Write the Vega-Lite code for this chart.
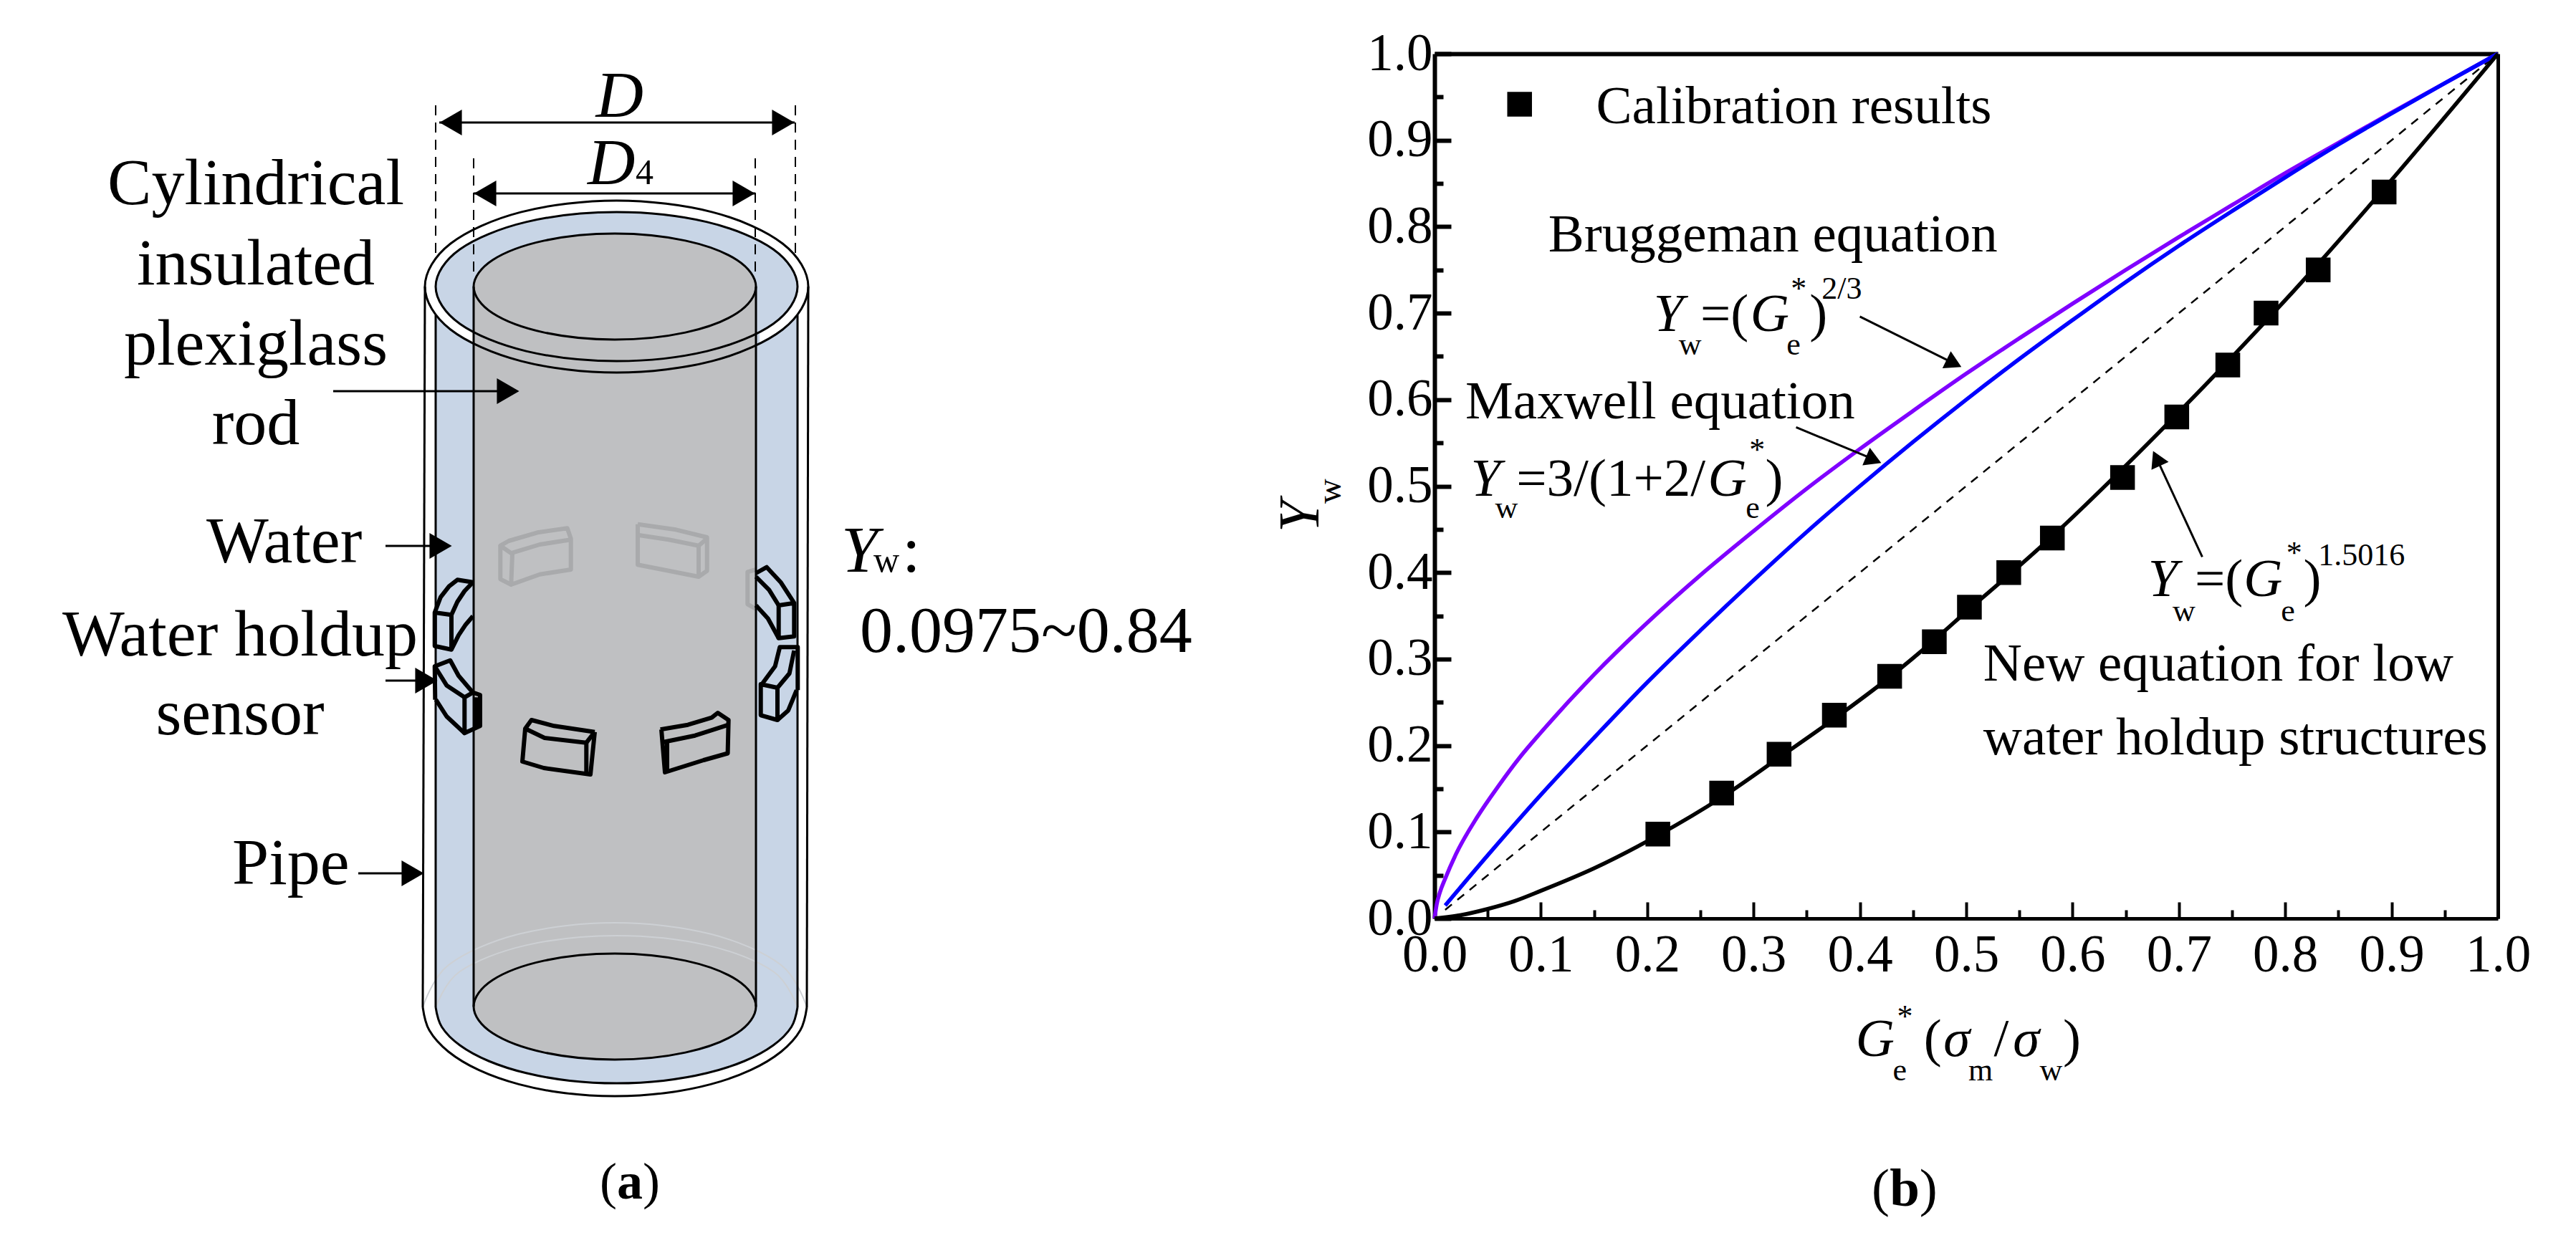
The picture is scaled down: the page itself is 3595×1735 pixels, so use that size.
{
"$schema":"https://vega.github.io/schema/vega-lite/v6.json",
"padding":0,
"background":"white",
"spacing":0,
"config":{"view":{"stroke":null},"text":{"font":"Liberation Serif","color":"black"},"axis":{"labelFont":"Liberation Serif","grid":false,"title":null}},
"datasets":{
"curves":[
{"series":"dash","g":0.01,"y":0.01},{"series":"dash","g":1,"y":1},
{"series":"purple","g":0,"y":0},{"series":"purple","g":0.002,"y":0.016},{"series":"purple","g":0.005,"y":0.03},{"series":"purple","g":0.01,"y":0.046},{"series":"purple","g":0.02,"y":0.074},{"series":"purple","g":0.04,"y":0.117},{"series":"purple","g":0.06,"y":0.153},{"series":"purple","g":0.08,"y":0.186},{"series":"purple","g":0.1,"y":0.215},{"series":"purple","g":0.15,"y":0.282},{"series":"purple","g":0.2,"y":0.342},{"series":"purple","g":0.25,"y":0.397},{"series":"purple","g":0.3,"y":0.448},{"series":"purple","g":0.35,"y":0.497},{"series":"purple","g":0.4,"y":0.543},{"series":"purple","g":0.45,"y":0.587},{"series":"purple","g":0.5,"y":0.63},{"series":"purple","g":0.55,"y":0.671},{"series":"purple","g":0.6,"y":0.711},{"series":"purple","g":0.65,"y":0.75},{"series":"purple","g":0.7,"y":0.788},{"series":"purple","g":0.75,"y":0.825},{"series":"purple","g":0.8,"y":0.862},{"series":"purple","g":0.85,"y":0.897},{"series":"purple","g":0.9,"y":0.932},{"series":"purple","g":0.95,"y":0.966},{"series":"purple","g":1,"y":1},
{"series":"blue","g":0.01,"y":0.015},{"series":"blue","g":0.05,"y":0.073},{"series":"blue","g":0.1,"y":0.143},{"series":"blue","g":0.15,"y":0.209},{"series":"blue","g":0.2,"y":0.273},{"series":"blue","g":0.25,"y":0.333},{"series":"blue","g":0.3,"y":0.391},{"series":"blue","g":0.35,"y":0.447},{"series":"blue","g":0.4,"y":0.5},{"series":"blue","g":0.45,"y":0.551},{"series":"blue","g":0.5,"y":0.6},{"series":"blue","g":0.55,"y":0.647},{"series":"blue","g":0.6,"y":0.692},{"series":"blue","g":0.65,"y":0.736},{"series":"blue","g":0.7,"y":0.778},{"series":"blue","g":0.75,"y":0.818},{"series":"blue","g":0.8,"y":0.857},{"series":"blue","g":0.85,"y":0.895},{"series":"blue","g":0.9,"y":0.931},{"series":"blue","g":0.95,"y":0.966},{"series":"blue","g":1,"y":1},
{"series":"black","g":0,"y":0},{"series":"black","g":0.025,"y":0.004},{"series":"black","g":0.05,"y":0.011},{"series":"black","g":0.075,"y":0.02},{"series":"black","g":0.1,"y":0.032},{"series":"black","g":0.15,"y":0.058},{"series":"black","g":0.21,"y":0.096},{"series":"black","g":0.27,"y":0.14},{"series":"black","g":0.324,"y":0.186},{"series":"black","g":0.376,"y":0.231},{"series":"black","g":0.428,"y":0.279},{"series":"black","g":0.47,"y":0.322},{"series":"black","g":0.503,"y":0.358},{"series":"black","g":0.54,"y":0.397},{"series":"black","g":0.581,"y":0.442},{"series":"black","g":0.647,"y":0.52},{"series":"black","g":0.698,"y":0.583},{"series":"black","g":0.746,"y":0.644},{"series":"black","g":0.782,"y":0.691},{"series":"black","g":0.831,"y":0.757},{"series":"black","g":0.893,"y":0.844},{"series":"black","g":1,"y":1}
],
"calib":[{"g":0.21,"y":0.0975},{"g":0.27,"y":0.145},{"g":0.324,"y":0.19},{"g":0.376,"y":0.235},{"g":0.428,"y":0.28},{"g":0.47,"y":0.32},{"g":0.503,"y":0.36},{"g":0.54,"y":0.4},{"g":0.581,"y":0.44},{"g":0.647,"y":0.51},{"g":0.698,"y":0.58},{"g":0.746,"y":0.64},{"g":0.782,"y":0.7},{"g":0.831,"y":0.75},{"g":0.893,"y":0.84},{"g":0.08,"y":0.9416}],
"notes":[
{"k":"reg","g":0.152,"y":0.92,"t":"Calibration results"},
{"k":"reg","g":0.107,"y":0.771,"t":"Bruggeman equation"},
{"k":"reg","g":0.029,"y":0.5786,"t":"Maxwell equation"},
{"k":"reg","g":0.516,"y":0.275,"t":"New equation for low"},
{"k":"reg","g":0.516,"y":0.19,"t":"water holdup structures"},
{"k":"reg","g":0.25,"y":0.679,"t":"=("},{"k":"reg","g":0.3526,"y":0.679,"t":")"},
{"k":"reg","g":0.077,"y":0.489,"t":"=3/(1+2/"},{"k":"reg","g":0.311,"y":0.489,"t":")"},
{"k":"reg","g":0.715,"y":0.373,"t":"=("},{"k":"reg","g":0.817,"y":0.373,"t":")"},
{"k":"reg","g":0.46,"y":-0.159,"t":"("},{"k":"reg","g":0.526,"y":-0.159,"t":"/"},{"k":"reg","g":0.591,"y":-0.159,"t":")"},
{"k":"reg","g":0.411,"y":-0.332,"t":"("},{"k":"reg","g":0.456,"y":-0.332,"t":")"},
{"k":"bold","g":0.428,"y":-0.332,"t":"b"},
{"k":"ital","g":0.206,"y":0.679,"t":"Y"},{"k":"ital","g":0.297,"y":0.679,"t":"G"},
{"k":"ital","g":0.034,"y":0.489,"t":"Y"},{"k":"ital","g":0.257,"y":0.489,"t":"G"},
{"k":"ital","g":0.671,"y":0.373,"t":"Y"},{"k":"ital","g":0.761,"y":0.373,"t":"G"},
{"k":"ital","g":0.396,"y":-0.159,"t":"G"},{"k":"ital","g":0.4786,"y":-0.159,"t":"σ"},{"k":"ital","g":0.544,"y":-0.159,"t":"σ"},
{"k":"small","g":0.2296,"y":0.652,"t":"w"},{"k":"small","g":0.331,"y":0.652,"t":"e"},{"k":"small","g":0.335,"y":0.717,"t":"*"},{"k":"small","g":0.364,"y":0.717,"t":"2/3"},
{"k":"small","g":0.057,"y":0.463,"t":"w"},{"k":"small","g":0.2926,"y":0.463,"t":"e"},{"k":"small","g":0.296,"y":0.53,"t":"*"},
{"k":"small","g":0.694,"y":0.344,"t":"w"},{"k":"small","g":0.796,"y":0.344,"t":"e"},{"k":"small","g":0.801,"y":0.411,"t":"*"},{"k":"small","g":0.831,"y":0.4086,"t":"1.5016"},
{"k":"small","g":0.431,"y":-0.187,"t":"e"},{"k":"small","g":0.435,"y":-0.125,"t":"*"},{"k":"small","g":0.502,"y":-0.187,"t":"m"},{"k":"small","g":0.569,"y":-0.187,"t":"w"},
{"k":"roty","g":-0.1092,"y":0.4466,"t":"Y"},
{"k":"rotw","g":-0.0885,"y":0.4797,"t":"w"}
],
"pointers":[
{"id":"a","n":0,"g":0.4,"y":0.696},{"id":"a","n":1,"g":0.49,"y":0.641},
{"id":"b","n":0,"g":0.34,"y":0.568},{"id":"b","n":1,"g":0.415,"y":0.53},
{"id":"c","n":0,"g":0.722,"y":0.418},{"id":"c","n":1,"g":0.678,"y":0.535}
],
"heads":[
{"id":"a","g":0.4885,"y":0.642,"ang":116},
{"id":"b","g":0.413,"y":0.5305,"ang":113},
{"id":"c","g":0.679,"y":0.532,"ang":-25}
],
"ell":[
{"id":"o","i":0,"u":1128,"v":400},{"id":"o","i":1,"u":1092.2,"v":340},{"id":"o","i":2,"u":994.3,"v":296.1},{"id":"o","i":3,"u":860.5,"v":280},{"id":"o","i":4,"u":726.7,"v":296.1},{"id":"o","i":5,"u":628.8,"v":340},{"id":"o","i":6,"u":593,"v":400},{"id":"o","i":7,"u":628.8,"v":460},{"id":"o","i":8,"u":726.7,"v":503.9},{"id":"o","i":9,"u":860.5,"v":520},{"id":"o","i":10,"u":994.3,"v":503.9},{"id":"o","i":11,"u":1092.2,"v":460},
{"id":"n","i":0,"u":1113,"v":400},{"id":"n","i":1,"u":1079.2,"v":348},{"id":"n","i":2,"u":986.8,"v":309.9},{"id":"n","i":3,"u":860.5,"v":296},{"id":"n","i":4,"u":734.2,"v":309.9},{"id":"n","i":5,"u":641.8,"v":348},{"id":"n","i":6,"u":608,"v":400},{"id":"n","i":7,"u":641.8,"v":452},{"id":"n","i":8,"u":734.2,"v":490.1},{"id":"n","i":9,"u":860.5,"v":504},{"id":"n","i":10,"u":986.8,"v":490.1},{"id":"n","i":11,"u":1079.2,"v":452},
{"id":"r","i":0,"u":1055,"v":400},{"id":"r","i":1,"u":1028.6,"v":363},{"id":"r","i":2,"u":956.5,"v":335.9},{"id":"r","i":3,"u":858,"v":326},{"id":"r","i":4,"u":759.5,"v":335.9},{"id":"r","i":5,"u":687.4,"v":363},{"id":"r","i":6,"u":661,"v":400},{"id":"r","i":7,"u":687.4,"v":437},{"id":"r","i":8,"u":759.5,"v":464.1},{"id":"r","i":9,"u":858,"v":474},{"id":"r","i":10,"u":956.5,"v":464.1},{"id":"r","i":11,"u":1028.6,"v":437},
{"id":"b","i":0,"u":1055,"v":1405},{"id":"b","i":1,"u":1028.6,"v":1368},{"id":"b","i":2,"u":956.5,"v":1340.9},{"id":"b","i":3,"u":858,"v":1331},{"id":"b","i":4,"u":759.5,"v":1340.9},{"id":"b","i":5,"u":687.4,"v":1368},{"id":"b","i":6,"u":661,"v":1405},{"id":"b","i":7,"u":687.4,"v":1442},{"id":"b","i":8,"u":759.5,"v":1469.1},{"id":"b","i":9,"u":858,"v":1479},{"id":"b","i":10,"u":956.5,"v":1469.1},{"id":"b","i":11,"u":1028.6,"v":1442}
],
"arcs":[
{"id":"ob","i":0,"u":590,"v":1406},{"id":"ob","i":1,"u":599.1,"v":1438.1},{"id":"ob","i":2,"u":625.9,"v":1468},{"id":"ob","i":3,"u":668.5,"v":1493.7},{"id":"ob","i":4,"u":724,"v":1513.4},{"id":"ob","i":5,"u":788.6,"v":1525.8},{"id":"ob","i":6,"u":858,"v":1530},{"id":"ob","i":7,"u":927.4,"v":1525.8},{"id":"ob","i":8,"u":992,"v":1513.4},{"id":"ob","i":9,"u":1047.5,"v":1493.7},{"id":"ob","i":10,"u":1090.1,"v":1468},{"id":"ob","i":11,"u":1116.9,"v":1438.1},{"id":"ob","i":12,"u":1126,"v":1406},
{"id":"ib","i":0,"u":608,"v":1406},{"id":"ib","i":1,"u":616.6,"v":1433.5},{"id":"ib","i":2,"u":641.8,"v":1459},{"id":"ib","i":3,"u":682,"v":1481},{"id":"ib","i":4,"u":734.2,"v":1497.8},{"id":"ib","i":5,"u":795.1,"v":1508.4},{"id":"ib","i":6,"u":860.5,"v":1512},{"id":"ib","i":7,"u":925.9,"v":1508.4},{"id":"ib","i":8,"u":986.8,"v":1497.8},{"id":"ib","i":9,"u":1039,"v":1481},{"id":"ib","i":10,"u":1079.2,"v":1459},{"id":"ib","i":11,"u":1104.4,"v":1433.5},{"id":"ib","i":12,"u":1113,"v":1406}
],
"faint":[
{"id":"of","i":0,"u":590,"v":1406},{"id":"of","i":1,"u":625.9,"v":1347},{"id":"of","i":2,"u":724,"v":1303.8},{"id":"of","i":3,"u":858,"v":1288},{"id":"of","i":4,"u":992,"v":1303.8},{"id":"of","i":5,"u":1090.1,"v":1347},{"id":"of","i":6,"u":1126,"v":1406},
{"id":"if","i":0,"u":608,"v":1406},{"id":"if","i":1,"u":641.8,"v":1356},{"id":"if","i":2,"u":734.2,"v":1319.4},{"id":"if","i":3,"u":860.5,"v":1306},{"id":"if","i":4,"u":986.8,"v":1319.4},{"id":"if","i":5,"u":1079.2,"v":1356},{"id":"if","i":6,"u":1113,"v":1406}
],
"blueArea":[{"u":608,"v":400,"v2":1406},{"u":616.5,"v":373,"v2":1433.5},{"u":641.5,"v":348,"v2":1459},{"u":682,"v":326.5,"v2":1481},{"u":734.5,"v":310,"v2":1498},{"u":795.5,"v":299.5,"v2":1508.5},{"u":860.5,"v":296,"v2":1512},{"u":925.5,"v":299.5,"v2":1508.5},{"u":986.5,"v":310,"v2":1498},{"u":1039,"v":326.5,"v2":1481},{"u":1079.5,"v":348,"v2":1459},{"u":1104.5,"v":373,"v2":1433.5},{"u":1113,"v":400,"v2":1406}],
"band":[
{"s":"l","u":593,"v":400,"v2":400},{"s":"l","u":597,"v":400,"v2":420.7},{"s":"l","u":608,"v":400,"v2":439.6},{"s":"l","u":610,"v":413,"v2":441},{"s":"l","u":620,"v":431.7,"v2":452.6},{"s":"l","u":640,"v":450.7,"v2":468},{"s":"l","u":661,"v":463.8,"v2":480},
{"s":"r","u":1060,"v":463.8,"v2":480},{"s":"r","u":1081,"v":450.7,"v2":468},{"s":"r","u":1101,"v":431.7,"v2":452.6},{"s":"r","u":1111,"v":413,"v2":441},{"s":"r","u":1113,"v":400,"v2":439.6},{"s":"r","u":1124,"v":400,"v2":420.7},{"s":"r","u":1128,"v":400,"v2":400}
],
"rodArea":[{"u":661,"v":400,"v2":1405},{"u":667.7,"v":381,"v2":1424},{"u":687.4,"v":363,"v2":1442},{"u":718.7,"v":347.7,"v2":1457.3},{"u":759.5,"v":336,"v2":1469},{"u":807,"v":328.5,"v2":1476.5},{"u":858,"v":326,"v2":1479},{"u":909,"v":328.5,"v2":1476.5},{"u":956.5,"v":336,"v2":1469},{"u":997.3,"v":347.7,"v2":1457.3},{"u":1028.6,"v":363,"v2":1442},{"u":1048.3,"v":381,"v2":1424},{"u":1055,"v":400,"v2":1405}],
"thin":[
{"id":"w1","i":0,"u":593,"v":400},{"id":"w1","i":1,"u":590,"v":1406},
{"id":"w2","i":0,"u":608,"v":440},{"id":"w2","i":1,"u":608,"v":1406},
{"id":"w3","i":0,"u":661,"v":400},{"id":"w3","i":1,"u":661,"v":1405},
{"id":"w4","i":0,"u":1055,"v":400},{"id":"w4","i":1,"u":1055,"v":1405},
{"id":"w5","i":0,"u":1113,"v":440},{"id":"w5","i":1,"u":1113,"v":1406},
{"id":"w6","i":0,"u":1128,"v":400},{"id":"w6","i":1,"u":1126,"v":1406},
{"id":"a1","i":0,"u":613,"v":171},{"id":"a1","i":1,"u":1109,"v":171},
{"id":"a2","i":0,"u":661,"v":270},{"id":"a2","i":1,"u":1054,"v":270},
{"id":"a3","i":0,"u":465,"v":546},{"id":"a3","i":1,"u":700,"v":546},
{"id":"a4","i":0,"u":538,"v":762},{"id":"a4","i":1,"u":605,"v":762},
{"id":"a5","i":0,"u":538,"v":950},{"id":"a5","i":1,"u":585,"v":950},
{"id":"a6","i":0,"u":500,"v":1219},{"id":"a6","i":1,"u":565,"v":1219}
],
"dashes":[
{"id":"d1","i":0,"u":608,"v":147},{"id":"d1","i":1,"u":608,"v":355},
{"id":"d2","i":0,"u":1110,"v":147},{"id":"d2","i":1,"u":1110,"v":355},
{"id":"d3","i":0,"u":661,"v":221},{"id":"d3","i":1,"u":661,"v":387},
{"id":"d4","i":0,"u":1054,"v":221},{"id":"d4","i":1,"u":1054,"v":387}
],
"heads2":[
{"shape":"triangle-left","u":629,"v":171},{"shape":"triangle-right","u":1093,"v":171},
{"shape":"triangle-left","u":677,"v":270},{"shape":"triangle-right","u":1038,"v":270},
{"shape":"triangle-right","u":709,"v":546},{"shape":"triangle-right","u":615,"v":762},
{"shape":"triangle-right","u":595,"v":950},{"shape":"triangle-right","u":576,"v":1219}
],
"sensors":[
{"id":"A1","i":0,"u":606.7,"v":855},{"id":"A1","i":1,"u":606.7,"v":901.7},{"id":"A1","i":2,"u":630,"v":906.7},{"id":"A1","i":3,"u":630,"v":858.3},{"id":"A1","i":4,"u":606.7,"v":855},{"id":"A1","i":5,"u":615,"v":833.3},{"id":"A1","i":6,"u":626.7,"v":818.3},{"id":"A1","i":7,"u":638.3,"v":809.3},{"id":"A1","i":8,"u":660,"v":812.7},
{"id":"A2","i":0,"u":630,"v":858.3},{"id":"A2","i":1,"u":638.3,"v":840},{"id":"A2","i":2,"u":648.3,"v":825},{"id":"A2","i":3,"u":660,"v":812.7},
{"id":"A3","i":0,"u":630,"v":906.7},{"id":"A3","i":1,"u":640,"v":886.7},{"id":"A3","i":2,"u":650,"v":871.7},{"id":"A3","i":3,"u":660,"v":860},
{"id":"B1","i":0,"u":607.3,"v":976.7},{"id":"B1","i":1,"u":606.7,"v":930},{"id":"B1","i":2,"u":628.3,"v":921.7},{"id":"B1","i":3,"u":640,"v":943.3},{"id":"B1","i":4,"u":660,"v":966.7},{"id":"B1","i":5,"u":670,"v":970},{"id":"B1","i":6,"u":670,"v":1013.3},{"id":"B1","i":7,"u":648.3,"v":1023.3},{"id":"B1","i":8,"u":648.3,"v":973.3},{"id":"B1","i":9,"u":660,"v":966.7},
{"id":"B2","i":0,"u":606.7,"v":930},{"id":"B2","i":1,"u":623.3,"v":956.7},{"id":"B2","i":2,"u":648.3,"v":973.3},
{"id":"B3","i":0,"u":608.3,"v":976.7},{"id":"B3","i":1,"u":623.3,"v":1000},{"id":"B3","i":2,"u":648.3,"v":1023.3},
{"id":"B4","i":0,"u":665,"v":973.3},{"id":"B4","i":1,"u":665,"v":1016.7},
{"id":"C1","i":0,"u":1055,"v":800},{"id":"C1","i":1,"u":1070,"v":791.7},{"id":"C1","i":2,"u":1090,"v":813.3},{"id":"C1","i":3,"u":1108.3,"v":841.7},{"id":"C1","i":4,"u":1108.3,"v":888.3},{"id":"C1","i":5,"u":1086.7,"v":890.7},{"id":"C1","i":6,"u":1086.7,"v":845},{"id":"C1","i":7,"u":1108.3,"v":841.7},
{"id":"C2","i":0,"u":1055,"v":805},{"id":"C2","i":1,"u":1073.3,"v":823.3},{"id":"C2","i":2,"u":1086.7,"v":845},
{"id":"C3","i":0,"u":1055,"v":845},{"id":"C3","i":1,"u":1071.7,"v":863.3},{"id":"C3","i":2,"u":1086.7,"v":890.7},
{"id":"D1","i":0,"u":1061.7,"v":955},{"id":"D1","i":1,"u":1085,"v":960},{"id":"D1","i":2,"u":1085,"v":1005},{"id":"D1","i":3,"u":1061.7,"v":998.3},{"id":"D1","i":4,"u":1061.7,"v":955},{"id":"D1","i":5,"u":1063.3,"v":955},{"id":"D1","i":6,"u":1081.7,"v":930},{"id":"D1","i":7,"u":1088.3,"v":903.3},{"id":"D1","i":8,"u":1113.3,"v":903.3},{"id":"D1","i":9,"u":1113.3,"v":963.3},
{"id":"D2","i":0,"u":1108.3,"v":908},{"id":"D2","i":1,"u":1101.7,"v":940},{"id":"D2","i":2,"u":1085,"v":960},
{"id":"D3","i":0,"u":1085,"v":1005},{"id":"D3","i":1,"u":1100,"v":991.7},{"id":"D3","i":2,"u":1111.7,"v":963.3},
{"id":"E1","i":0,"u":830,"v":1021.7},{"id":"E1","i":1,"u":773.3,"v":1013.3},{"id":"E1","i":2,"u":741.7,"v":1005},{"id":"E1","i":3,"u":733,"v":1017},{"id":"E1","i":4,"u":729,"v":1063},{"id":"E1","i":5,"u":759,"v":1072},{"id":"E1","i":6,"u":824,"v":1081},{"id":"E1","i":7,"u":830,"v":1021.7},
{"id":"E2","i":0,"u":733,"v":1017},{"id":"E2","i":1,"u":760,"v":1030},{"id":"E2","i":2,"u":818.3,"v":1036.7},{"id":"E2","i":3,"u":818.3,"v":1079},
{"id":"E3","i":0,"u":818.3,"v":1036.7},{"id":"E3","i":1,"u":830,"v":1021.7},
{"id":"F1","i":0,"u":921.7,"v":1018.3},{"id":"F1","i":1,"u":960,"v":1011.7},{"id":"F1","i":2,"u":993.3,"v":1001.7},{"id":"F1","i":3,"u":1001.7,"v":995},{"id":"F1","i":4,"u":1016.7,"v":1005},{"id":"F1","i":5,"u":1015.6,"v":1051.5},{"id":"F1","i":6,"u":982,"v":1061},{"id":"F1","i":7,"u":928,"v":1078},{"id":"F1","i":8,"u":923,"v":1018.3},
{"id":"F2","i":0,"u":925,"v":1036},{"id":"F2","i":1,"u":970,"v":1026.7},{"id":"F2","i":2,"u":1016.7,"v":1011.7},
{"id":"F3","i":0,"u":931,"v":1036},{"id":"F3","i":1,"u":931,"v":1076}
],
"backs":[
{"id":"G1","i":0,"u":698.3,"v":761.7},{"id":"G1","i":1,"u":698.3,"v":808.3},{"id":"G1","i":2,"u":713.3,"v":816},{"id":"G1","i":3,"u":715,"v":773.3},{"id":"G1","i":4,"u":698.3,"v":761.7},{"id":"G1","i":5,"u":710,"v":755},{"id":"G1","i":6,"u":750,"v":743.3},{"id":"G1","i":7,"u":791.7,"v":737.3},{"id":"G1","i":8,"u":796.7,"v":751.7},{"id":"G1","i":9,"u":796.7,"v":795},{"id":"G1","i":10,"u":753.3,"v":801.7},{"id":"G1","i":11,"u":713.3,"v":816},
{"id":"G2","i":0,"u":715,"v":771.7},{"id":"G2","i":1,"u":753.3,"v":760},{"id":"G2","i":2,"u":796.7,"v":753.3},
{"id":"H1","i":0,"u":890,"v":731.7},{"id":"H1","i":1,"u":890,"v":788.3},{"id":"H1","i":2,"u":933.3,"v":796.7},{"id":"H1","i":3,"u":975,"v":805},{"id":"H1","i":4,"u":986.7,"v":796.7},{"id":"H1","i":5,"u":986.7,"v":750},{"id":"H1","i":6,"u":943.3,"v":739.3},{"id":"H1","i":7,"u":890,"v":731.7},
{"id":"H2","i":0,"u":890,"v":746.7},{"id":"H2","i":1,"u":933.3,"v":753.3},{"id":"H2","i":2,"u":975,"v":761.7},{"id":"H2","i":3,"u":986.7,"v":751.7},
{"id":"H3","i":0,"u":975,"v":761.7},{"id":"H3","i":1,"u":975,"v":805},
{"id":"I1","i":0,"u":1055,"v":795},{"id":"I1","i":1,"u":1043.3,"v":798.3},{"id":"I1","i":2,"u":1043.3,"v":843.3},{"id":"I1","i":3,"u":1055,"v":850}
],
"leftText":[
{"k":"c","u":357,"v":285,"t":"Cylindrical"},{"k":"c","u":357,"v":397,"t":"insulated"},{"k":"c","u":357,"v":509,"t":"plexiglass"},{"k":"c","u":357,"v":620,"t":"rod"},{"k":"c","u":335,"v":1024.5,"t":"sensor"},
{"k":"l","u":288,"v":785,"t":"Water"},{"k":"l","u":87,"v":915,"t":"Water holdup"},{"k":"l","u":324,"v":1234,"t":"Pipe"},{"k":"l","u":1259,"v":797.5,"t":":"},{"k":"l","u":1200,"v":910,"t":"0.0975~0.84"},
{"k":"i","u":831.5,"v":163,"t":"D"},{"k":"i","u":820,"v":257,"t":"D"},{"k":"i","u":1174,"v":797.5,"t":"Y"},
{"k":"s","u":887,"v":257,"t":"4"},{"k":"s","u":1219,"v":797.5,"t":"w"},
{"k":"p","u":837,"v":1673,"t":"("},{"k":"p","u":897,"v":1673,"t":")"},
{"k":"b","u":861,"v":1673,"t":"a"}
]
},
"hconcat":[
{
"width":1700,"height":1735,
"encoding":{
"x":{"field":"u","type":"quantitative","scale":{"domain":[0,1700]},"axis":null},
"y":{"field":"v","type":"quantitative","scale":{"domain":[0,1735],"reverse":true},"axis":null}
},
"layer":[
{"data":{"name":"blueArea"},"mark":{"type":"area","color":"#c8d5e6","interpolate":"cardinal"},"encoding":{"y2":{"field":"v2"}}},
{"data":{"name":"band"},"mark":{"type":"area","color":"white"},"encoding":{"y2":{"field":"v2"},"detail":{"field":"s"}}},
{"data":{"name":"rodArea"},"mark":{"type":"area","color":"#bfc0c2","interpolate":"cardinal"},"encoding":{"y2":{"field":"v2"}}},
{"data":{"name":"faint"},"mark":{"type":"line","color":"#cdd0d4","strokeWidth":2,"interpolate":"cardinal"},"encoding":{"detail":{"field":"id"},"order":{"field":"i"}}},
{"data":{"name":"backs"},"mark":{"type":"line","color":"#a9aaac","strokeWidth":6,"strokeJoin":"round"},"encoding":{"detail":{"field":"id"},"order":{"field":"i"}}},
{"data":{"name":"thin"},"mark":{"type":"line","color":"black","strokeWidth":3},"encoding":{"detail":{"field":"id"},"order":{"field":"i"}}},
{"data":{"name":"dashes"},"mark":{"type":"line","color":"black","strokeWidth":2,"strokeDash":[14,10]},"encoding":{"detail":{"field":"id"},"order":{"field":"i"}}},
{"data":{"name":"ell"},"mark":{"type":"line","color":"black","strokeWidth":3,"interpolate":"cardinal-closed"},"encoding":{"detail":{"field":"id"},"order":{"field":"i"}}},
{"data":{"name":"arcs"},"mark":{"type":"line","color":"black","strokeWidth":3,"interpolate":"cardinal"},"encoding":{"detail":{"field":"id"},"order":{"field":"i"}}},
{"data":{"name":"sensors"},"mark":{"type":"line","color":"black","strokeWidth":6,"strokeJoin":"round"},"encoding":{"detail":{"field":"id"},"order":{"field":"i"}}},
{"data":{"name":"heads2"},"mark":{"type":"point","filled":true,"color":"black","opacity":1,"size":1296},"encoding":{"shape":{"field":"shape","type":"nominal","scale":null}}},
{"data":{"name":"leftText"},"transform":[{"filter":"datum.k==='c'"}],"mark":{"type":"text","fontSize":92,"align":"center","baseline":"alphabetic"},"encoding":{"text":{"field":"t"}}},
{"data":{"name":"leftText"},"transform":[{"filter":"datum.k==='l'"}],"mark":{"type":"text","fontSize":92,"align":"left","baseline":"alphabetic"},"encoding":{"text":{"field":"t"}}},
{"data":{"name":"leftText"},"transform":[{"filter":"datum.k==='i'"}],"mark":{"type":"text","fontSize":92,"fontStyle":"italic","align":"left","baseline":"alphabetic"},"encoding":{"text":{"field":"t"}}},
{"data":{"name":"leftText"},"transform":[{"filter":"datum.k==='s'"}],"mark":{"type":"text","fontSize":50,"align":"left","baseline":"alphabetic"},"encoding":{"text":{"field":"t"}}},
{"data":{"name":"leftText"},"transform":[{"filter":"datum.k==='p'"}],"mark":{"type":"text","fontSize":72,"align":"left","baseline":"alphabetic"},"encoding":{"text":{"field":"t"}}},
{"data":{"name":"leftText"},"transform":[{"filter":"datum.k==='b'"}],"mark":{"type":"text","fontSize":72,"fontWeight":"bold","align":"left","baseline":"alphabetic"},"encoding":{"text":{"field":"t"}}}
]
},
{
"width":1895,"height":1735,
"resolve":{"axis":{"x":"independent","y":"independent"}},
"encoding":{
"x":{"field":"g","type":"quantitative","scale":{"domain":[0,1],"range":[302,1786]},"axis":null},
"y":{"field":"y","type":"quantitative","scale":{"domain":[0,1],"range":[1282,75]},"axis":null}
},
"layer":[
{"data":{"name":"curves"},"transform":[{"filter":"datum.series==='dash'"}],"mark":{"type":"line","color":"black","strokeWidth":2.5,"strokeDash":[12,10]},
"encoding":{
"x":{"field":"g","type":"quantitative","axis":{"orient":"bottom","offset":-453,"values":[0,0.1,0.2,0.3,0.4,0.5,0.6,0.7,0.8,0.9,1],"format":".1f","domainColor":"black","domainWidth":5,"tickColor":"black","tickWidth":4,"tickSize":-23,"labelColor":"black","labelFontSize":73,"labelPadding":38,"labelOverlap":false,"labelFlush":false,"labelBound":false}},
"y":{"field":"y","type":"quantitative","axis":{"orient":"left","offset":-302,"values":[0,0.1,0.2,0.3,0.4,0.5,0.6,0.7,0.8,0.9,1],"format":".1f","domainColor":"black","domainWidth":6,"tickColor":"black","tickWidth":6,"tickSize":-23,"labelColor":"black","labelFontSize":73,"labelPadding":26,"labelOverlap":false,"labelFlush":false,"labelBound":false}}
}},
{"data":{"name":"curves"},"transform":[{"filter":"datum.series==='purple'"}],"mark":{"type":"line","color":"#7f00ff","strokeWidth":5.5,"interpolate":"monotone"},
"encoding":{
"x":{"field":"g","type":"quantitative","axis":{"orient":"bottom","offset":-453,"values":[0.05,0.15,0.25,0.35,0.45,0.55,0.65,0.75,0.85,0.95],"domain":false,"labels":false,"tickColor":"black","tickWidth":4,"tickSize":-12}},
"y":{"field":"y","type":"quantitative","axis":{"orient":"left","offset":-302,"values":[0.05,0.15,0.25,0.35,0.45,0.55,0.65,0.75,0.85,0.95],"domain":false,"labels":false,"tickColor":"black","tickWidth":6,"tickSize":-12}}
}},
{"data":{"name":"curves"},"transform":[{"filter":"datum.series==='blue'"}],"mark":{"type":"line","color":"#0000ff","strokeWidth":5.5,"interpolate":"monotone"},
"encoding":{
"x":{"field":"g","type":"quantitative","axis":{"orient":"top","offset":-75,"values":[],"ticks":false,"labels":false,"domainColor":"black","domainWidth":6}},
"y":{"field":"y","type":"quantitative","axis":{"orient":"right","offset":-109,"values":[],"ticks":false,"labels":false,"domainColor":"black","domainWidth":5}}
}},
{"data":{"name":"curves"},"transform":[{"filter":"datum.series==='black'"}],"mark":{"type":"line","color":"black","strokeWidth":5.5,"interpolate":"monotone"}},
{"data":{"name":"calib"},"mark":{"type":"point","shape":"square","filled":true,"color":"black","opacity":1,"size":1190}},
{"data":{"name":"pointers"},"mark":{"type":"line","color":"black","strokeWidth":3},"encoding":{"detail":{"field":"id"},"order":{"field":"n"}}},
{"data":{"name":"heads"},"mark":{"type":"point","shape":"triangle-up","filled":true,"color":"black","opacity":1,"size":700},"encoding":{"angle":{"field":"ang","type":"quantitative","scale":null}}},
{"data":{"name":"notes"},"transform":[{"filter":"datum.k==='reg'"}],"mark":{"type":"text","fontSize":75,"align":"left","baseline":"alphabetic"},"encoding":{"text":{"field":"t"}}},
{"data":{"name":"notes"},"transform":[{"filter":"datum.k==='bold'"}],"mark":{"type":"text","fontSize":75,"fontWeight":"bold","align":"left","baseline":"alphabetic"},"encoding":{"text":{"field":"t"}}},
{"data":{"name":"notes"},"transform":[{"filter":"datum.k==='ital'"}],"mark":{"type":"text","fontSize":75,"fontStyle":"italic","align":"left","baseline":"alphabetic"},"encoding":{"text":{"field":"t"}}},
{"data":{"name":"notes"},"transform":[{"filter":"datum.k==='small'"}],"mark":{"type":"text","fontSize":44,"align":"left","baseline":"alphabetic"},"encoding":{"text":{"field":"t"}}},
{"data":{"name":"notes"},"transform":[{"filter":"datum.k==='roty'"}],"mark":{"type":"text","fontSize":80,"fontStyle":"italic","angle":270,"align":"left","baseline":"alphabetic"},"encoding":{"text":{"field":"t"}}},
{"data":{"name":"notes"},"transform":[{"filter":"datum.k==='rotw'"}],"mark":{"type":"text","fontSize":48,"angle":270,"align":"left","baseline":"alphabetic"},"encoding":{"text":{"field":"t"}}}
]
}
]
}
